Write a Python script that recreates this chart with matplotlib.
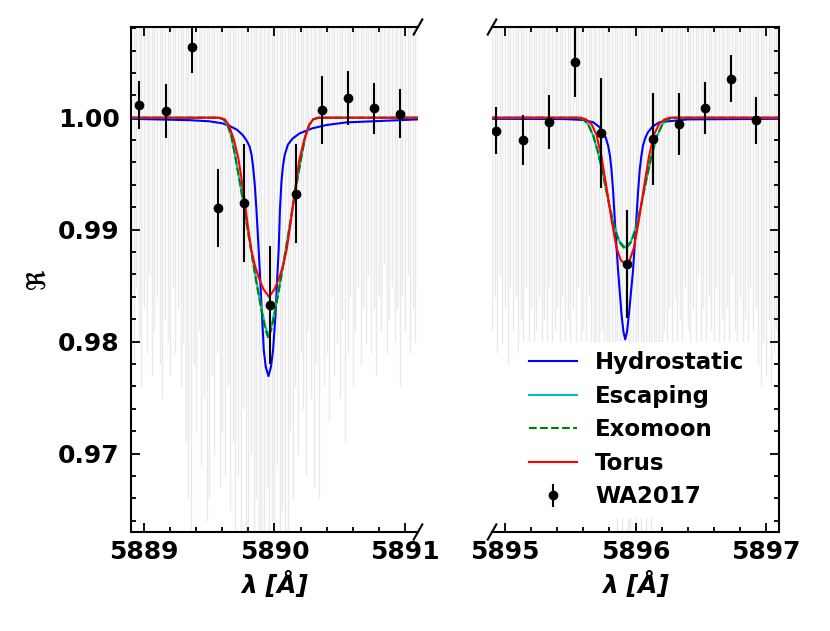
import numpy as np
import matplotlib
matplotlib.use("Agg")
import matplotlib.pyplot as plt
from matplotlib.ticker import MultipleLocator, FormatStrFormatter
from matplotlib.lines import Line2D

plt.rcParams['font.family'] = ['DejaVu Sans']
plt.rcParams['font.weight'] = 'bold'
plt.rcParams['font.size'] = 18

# ---- WA2017 binned points ----
wa_wave_d2 = [5888.965, 5889.165, 5889.364, 5889.564, 5889.763, 5889.963,
              5890.162, 5890.361, 5890.563, 5890.765, 5890.963]
wa_flux_d2 = [1.00113, 1.00060, 1.00629, 0.99196, 0.99238, 0.98326,
              0.99321, 1.00069, 1.00176, 1.00084, 1.00036]
wa_err_d2 = [0.00217, 0.00240, 0.00230, 0.00350, 0.00530, 0.00525,
             0.00444, 0.00300, 0.00240, 0.00226, 0.00220]

wa_wave_d1 = [5894.933, 5895.134, 5895.335, 5895.534, 5895.734, 5895.933,
              5896.131, 5896.330, 5896.530, 5896.729, 5896.927]
wa_flux_d1 = [0.99884, 0.99801, 0.99962, 1.00495, 0.99866, 0.98693,
              0.99807, 0.99944, 1.00087, 1.00346, 0.99979]
wa_err_d1 = [0.00210, 0.00220, 0.00240, 0.00310, 0.00490, 0.00480,
             0.00410, 0.00280, 0.00230, 0.00210, 0.00210]

# ---- model curves, D2 ----
hyd_wave_d2 = [5888.90, 5889.35, 5889.50, 5889.60, 5889.657, 5889.712, 5889.757,
               5889.787, 5889.810, 5889.824, 5889.836, 5889.849, 5889.862,
               5889.879, 5889.892, 5889.905, 5889.918, 5889.933, 5889.954,
               5889.973, 5889.989, 5890.007, 5890.019, 5890.032, 5890.042,
               5890.053, 5890.065, 5890.079, 5890.103, 5890.140, 5890.193,
               5890.290, 5890.400, 5890.550, 5891.10]
hyd_flux_d2 = [0.99990, 0.99978, 0.99968, 0.99950, 0.99926, 0.99893, 0.99845,
               0.99795, 0.99741, 0.99670, 0.99562, 0.99400, 0.99175,
               0.98818, 0.98520, 0.98222, 0.97924, 0.97775, 0.97692,
               0.97775, 0.97924, 0.98222, 0.98520, 0.98818, 0.99180,
               0.99420, 0.99570, 0.99670, 0.99760, 0.99815, 0.99860,
               0.99905, 0.99935, 0.99958, 0.99985]

tor_wave_d2 = [5888.90, 5889.580, 5889.620, 5889.650, 5889.690, 5889.726,
               5889.767, 5889.796, 5889.823, 5889.850, 5889.880, 5889.915,
               5889.958, 5890.001, 5890.036, 5890.066, 5890.093, 5890.120,
               5890.150, 5890.190, 5890.227, 5890.266, 5890.296, 5890.336,
               5891.10]
tor_flux_d2 = [1.0, 1.0, 0.99985, 0.99935, 0.99800, 0.99620,
               0.99300, 0.99030, 0.98818, 0.98680, 0.98570, 0.98470,
               0.98400, 0.98470, 0.98570, 0.98680, 0.98818, 0.99030,
               0.99300, 0.99620, 0.99800, 0.99935, 0.99985, 1.0,
               1.0]

moon_wave_d2 = [5888.90, 5889.570, 5889.610, 5889.640, 5889.670, 5889.700,
                5889.738, 5889.776, 5889.814, 5889.848, 5889.878, 5889.905,
                5889.930, 5889.953, 5889.976, 5890.001, 5890.028, 5890.058,
                5890.092, 5890.130, 5890.168, 5890.206, 5890.236, 5890.266,
                5890.296, 5890.336, 5891.10]
moon_flux_d2 = [1.0, 1.0, 0.99985, 0.99935, 0.99830, 0.99650,
                0.99400, 0.99130, 0.98860, 0.98620, 0.98420, 0.98250,
                0.98110, 0.98030, 0.98110, 0.98250, 0.98420, 0.98620,
                0.98860, 0.99130, 0.99400, 0.99650, 0.99830, 0.99935,
                0.99985, 1.0, 1.0]
esc_flux_d2 = [1.0, 1.0, 0.99985, 0.99935, 0.99830, 0.99650,
               0.99400, 0.99130, 0.98865, 0.98630, 0.98435, 0.98270,
               0.98135, 0.98058, 0.98135, 0.98270, 0.98435, 0.98630,
               0.98865, 0.99130, 0.99400, 0.99650, 0.99830, 0.99935,
               0.99985, 1.0, 1.0]

# ---- model curves, D1 ----
hyd_wave_d1 = [5894.90, 5895.45, 5895.597, 5895.674, 5895.720, 5895.752,
               5895.772, 5895.790, 5895.804, 5895.816, 5895.829, 5895.841,
               5895.866, 5895.892, 5895.907, 5895.921, 5895.935, 5895.950,
               5895.981, 5896.006, 5896.019, 5896.032, 5896.045, 5896.057,
               5896.075, 5896.095, 5896.130, 5896.184, 5896.40, 5897.10]
hyd_flux_d1 = [0.99990, 0.99988, 0.99980, 0.99960, 0.99920, 0.99870,
               0.99820, 0.99750, 0.99660, 0.99533, 0.99330, 0.99086,
               0.98639, 0.98252, 0.98090, 0.98020, 0.98090, 0.98252,
               0.98639, 0.99086, 0.99330, 0.99533, 0.99660, 0.99750,
               0.99820, 0.99870, 0.99920, 0.99960, 0.99985, 0.99990]

tor_wave_d1 = [5894.90, 5895.580, 5895.620, 5895.661, 5895.700, 5895.738,
               5895.777, 5895.816, 5895.854, 5895.886, 5895.921, 5895.956,
               5895.988, 5896.026, 5896.065, 5896.104, 5896.142, 5896.181,
               5896.222, 5896.262, 5897.10]
tor_flux_d1 = [1.0, 1.0, 0.99985, 0.99945, 0.99850, 0.99660,
               0.99383, 0.99086, 0.98840, 0.98730, 0.98693, 0.98730,
               0.98840, 0.99086, 0.99383, 0.99660, 0.99850, 0.99945,
               0.99985, 1.0, 1.0]

moon_wave_d1 = [5894.90, 5895.560, 5895.600, 5895.637, 5895.676, 5895.715,
                5895.755, 5895.795, 5895.835, 5895.875, 5895.921, 5895.967,
                5896.007, 5896.047, 5896.087, 5896.127, 5896.166, 5896.205,
                5896.242, 5896.282, 5897.10]
moon_flux_d1 = [1.0, 1.0, 0.99985, 0.99940, 0.99840, 0.99680,
                0.99470, 0.99240, 0.99030, 0.98890, 0.98824, 0.98890,
                0.99030, 0.99240, 0.99470, 0.99680, 0.99840, 0.99940,
                0.99985, 1.0, 1.0]
esc_flux_d1 = [1.0, 1.0, 0.99985, 0.99940, 0.99840, 0.99680,
               0.99470, 0.99240, 0.99035, 0.98900, 0.98840, 0.98900,
               0.99035, 0.99240, 0.99470, 0.99680, 0.99840, 0.99940,
               0.99985, 1.0, 1.0]

# ---- noisy high-resolution spectrum (grey), lower excursions per 0.02 A ----
spec_start_d2 = 5888.90
spec_start_d1 = 5894.90
spec_step = 0.02
spec_top = 1.02
spec_low_d2 = [0.982, 0.978, 0.985, 0.980, 0.976, 0.983, 0.979, 0.986, 0.977, 0.981,
               0.984, 0.978, 0.975, 0.982, 0.980, 0.977, 0.985, 0.979, 0.983, 0.976,
               0.980, 0.971, 0.966, 0.963, 0.978, 0.972, 0.981, 0.969, 0.975, 0.964,
               0.966, 0.977, 0.970, 0.979, 0.967, 0.972, 0.968, 0.976, 0.965, 0.971,
               0.962, 0.968, 0.961, 0.974, 0.963, 0.960, 0.970, 0.962, 0.966, 0.961,
               0.963, 0.960, 0.967, 0.961, 0.964, 0.960, 0.969, 0.962, 0.965, 0.961,
               0.963, 0.972, 0.966, 0.976, 0.970, 0.979, 0.974, 0.968, 0.981, 0.975,
               0.967, 0.978, 0.966, 0.982, 0.976, 0.979, 0.973, 0.984, 0.977, 0.980,
               0.975, 0.982, 0.971, 0.979, 0.984, 0.976, 0.981, 0.985, 0.978, 0.983,
               0.980, 0.986, 0.979, 0.983, 0.977, 0.984, 0.981, 0.987, 0.979, 0.982,
               0.985, 0.980, 0.983, 0.976, 0.984, 0.981, 0.986, 0.979, 0.983, 0.980, 0.985]
spec_low_d1 = [0.981, 0.984, 0.979, 0.986, 0.980, 0.983, 0.978, 0.985, 0.981, 0.984,
               0.979, 0.982, 0.977, 0.985, 0.980, 0.983, 0.976, 0.981, 0.984, 0.978,
               0.982, 0.979, 0.985, 0.977, 0.981, 0.983, 0.978, 0.984, 0.980, 0.982,
               0.977, 0.983, 0.979, 0.985, 0.976, 0.981, 0.978, 0.984, 0.980, 0.975,
               0.979, 0.972, 0.981, 0.970, 0.976, 0.968, 0.974, 0.966, 0.962, 0.971,
               0.961, 0.968, 0.963, 0.960, 0.970, 0.962, 0.965, 0.961, 0.967, 0.963,
               0.969, 0.962, 0.974, 0.966, 0.978, 0.972, 0.981, 0.975, 0.983, 0.979,
               0.984, 0.980, 0.982, 0.977, 0.985, 0.981, 0.979, 0.983, 0.978, 0.986,
               0.980, 0.983, 0.977, 0.984, 0.981, 0.979, 0.985, 0.978, 0.982, 0.980,
               0.983, 0.979, 0.986, 0.981, 0.977, 0.984, 0.980, 0.982, 0.978, 0.985,
               0.981, 0.983, 0.978, 0.976, 0.980, 0.977, 0.982, 0.976, 0.979, 0.981, 0.978]

labels = ['Hydrostatic', 'Escaping', 'Exomoon', 'Torus', 'WA2017']


fig = plt.figure(figsize=(8.3, 6.31), dpi=100)
ax1 = fig.add_axes([0.1578, 0.1569, 0.3458, 0.8003])
ax2 = fig.add_axes([0.5928, 0.1569, 0.3458, 0.8003])


def draw_panel(ax, start, lows, hw, hf, ew, ef, mw, mf, tw, tf, pw, pf, pe):
    x = start + spec_step * np.arange(len(lows))
    ax.vlines(x, lows, spec_top, color='#e9e9e9', lw=1.0, zorder=0)
    ax.plot(hw, hf, color='b', lw=1.5)
    ax.plot(ew, ef, color='c', lw=1.5)
    ax.plot(mw, mf, color='g', ls='--', lw=1.5)
    ax.plot(tw, tf, color='r', lw=1.5)
    ax.errorbar(pw, pf, yerr=pe, fmt='o', color='k', ms=6, elinewidth=1.5,
                capsize=0, zorder=5)


draw_panel(ax1, spec_start_d2, spec_low_d2, hyd_wave_d2, hyd_flux_d2,
           moon_wave_d2, esc_flux_d2, moon_wave_d2, moon_flux_d2,
           tor_wave_d2, tor_flux_d2, wa_wave_d2, wa_flux_d2, wa_err_d2)
draw_panel(ax2, spec_start_d1, spec_low_d1, hyd_wave_d1, hyd_flux_d1,
           moon_wave_d1, esc_flux_d1, moon_wave_d1, moon_flux_d1,
           tor_wave_d1, tor_flux_d1, wa_wave_d1, wa_flux_d1, wa_err_d1)

ax1.set_xlim(5888.9, 5891.1)
ax2.set_xlim(5894.9, 5897.1)
for ax in (ax1, ax2):
    ax.set_ylim(0.963, 1.0081)
    ax.xaxis.set_major_locator(MultipleLocator(1))
    ax.xaxis.set_minor_locator(MultipleLocator(0.2))
    ax.yaxis.set_major_locator(MultipleLocator(0.01))
    ax.yaxis.set_minor_locator(MultipleLocator(0.002))
    ax.tick_params(which='both', direction='in', width=1.3)
    ax.tick_params(which='major', length=6.5)
    ax.tick_params(which='minor', length=3.5)
    ax.tick_params(axis='x', pad=6)
    ax.tick_params(axis='y', pad=8)
    for s in ax.spines.values():
        s.set_linewidth(1.5)
    ax.set_xlabel('λ [Å]', fontstyle='italic', fontweight='bold', labelpad=5)

ax1.spines['right'].set_visible(False)
ax2.spines['left'].set_visible(False)
ax1.tick_params(which='both', top=True, right=False)
ax2.tick_params(which='both', top=True, right=True, left=False, labelleft=False)
ax1.yaxis.set_major_formatter(FormatStrFormatter('%.2f'))
ax1.set_ylabel(r'$\Re$', fontweight='normal', labelpad=5)

# break marks
d = 0.015
kw = dict(color='k', clip_on=False, lw=1.5)
ax1.plot((1 - d, 1 + d), (-d, +d), transform=ax1.transAxes, **kw)
ax1.plot((1 - d, 1 + d), (1 - d, 1 + d), transform=ax1.transAxes, **kw)
ax2.plot((-d, +d), (-d, +d), transform=ax2.transAxes, **kw)
ax2.plot((-d, +d), (1 - d, 1 + d), transform=ax2.transAxes, **kw)

handles = [Line2D([], [], color='b', lw=1.5),
           Line2D([], [], color='c', lw=1.5),
           Line2D([], [], color='g', ls='--', lw=1.5),
           Line2D([], [], color='r', lw=1.5),
           ax2.containers[0]]
leg = ax2.legend(handles, labels, loc='lower right', fontsize=16.5,
                 bbox_to_anchor=(0.951, 0.006), labelspacing=0.46,
                 handlelength=2.1,
                 frameon=True, facecolor='white', edgecolor='none',
                 framealpha=1.0)

fig.savefig('out.png', dpi=100)
